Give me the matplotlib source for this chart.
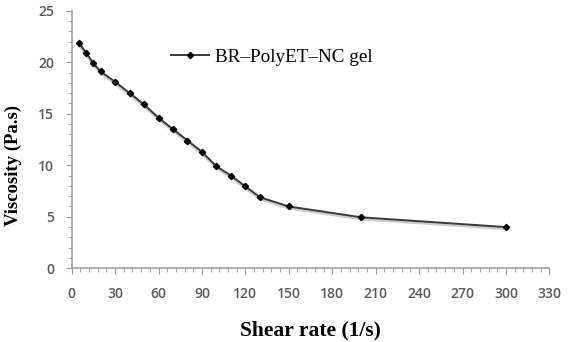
import matplotlib
matplotlib.use("Agg")
import matplotlib.pyplot as plt
from matplotlib.ticker import MultipleLocator

# data
shear_rate = [5, 10, 15, 20, 30, 40, 50, 60, 70, 80, 90, 100, 110, 120, 130, 150, 200, 300]
viscosity = [21.9, 20.9, 19.9, 19.1, 18.1, 17.0, 15.9, 14.6, 13.5, 12.4, 11.3, 9.9, 9.0, 7.95, 6.9, 6.0, 4.95, 4.0]
series_name = "BR\u2013PolyET\u2013NC gel"

fig = plt.figure(figsize=(5.68, 3.42), dpi=100)
ax = fig.add_axes([0.1262, 0.2155, 0.841, 0.7532])

# faint shadow under the line like the original
ax.plot(shear_rate, [v - 0.15 for v in viscosity], color="#cccccc", lw=2.2, zorder=1)
ax.plot(shear_rate, viscosity, color="#3a3a3a", lw=1.4, marker="D", ms=3.2,
        mfc="black", mec="black", label=series_name, zorder=2)

ax.set_xlim(0, 330)
ax.set_ylim(0, 25)
ax.xaxis.set_major_locator(MultipleLocator(30))
ax.xaxis.set_minor_locator(MultipleLocator(6))
ax.yaxis.set_major_locator(MultipleLocator(5))
ax.yaxis.set_minor_locator(MultipleLocator(1))

for s in ["top", "right"]:
    ax.spines[s].set_visible(False)
for s in ["left", "bottom"]:
    ax.spines[s].set_color("#999999")
    ax.spines[s].set_linewidth(1.1)

ax.tick_params(which="both", direction="out", color="#999999", labelcolor="#5a5a5a",
               labelsize=10)
ax.tick_params(which="major", length=4.5)
ax.tick_params(which="minor", length=3)
ax.tick_params(axis="x", which="major", pad=9)
ax.tick_params(axis="y", which="major", pad=8)
for lab in ax.get_xticklabels() + ax.get_yticklabels():
    lab.set_family("Open Sans")
    lab.set_fontweight("semibold")

ax.set_xlabel("Shear rate (1/s)", family="Liberation Serif", fontweight="bold",
              fontsize=15.5, labelpad=14)
ax.set_ylabel("Viscosity (Pa.s)", family="Liberation Serif", fontweight="bold",
              fontsize=13.5)
ax.yaxis.set_label_coords(-0.105, 0.40)

ax.legend(loc="center left", bbox_to_anchor=(0.172, 0.82), frameon=False,
          prop={"family": "Liberation Serif", "size": 13.8}, handlelength=2.0,
          handletextpad=0.3)

fig.savefig("out.png", dpi=100)
